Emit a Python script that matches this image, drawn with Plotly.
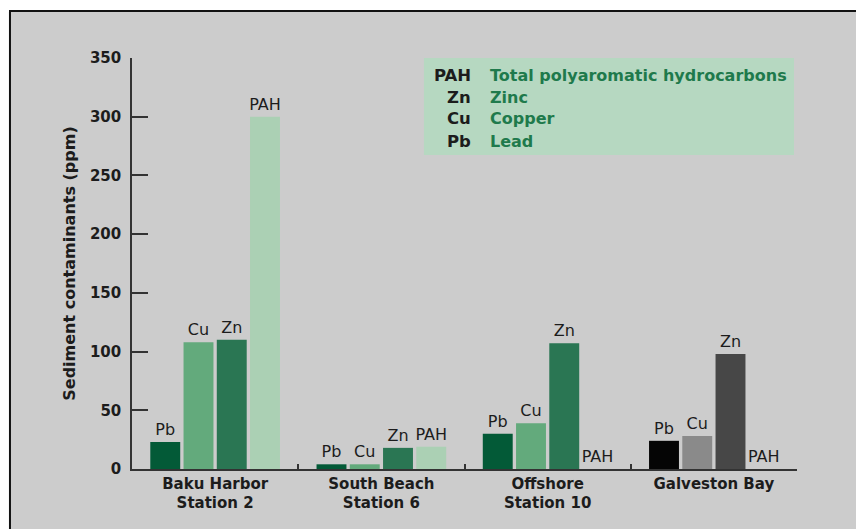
import plotly.graph_objects as go

# ---- data ----
stations = ["Baku Harbor<br>Station 2", "South Beach<br>Station 6", "Offshore<br>Station 10", "Galveston Bay"]
metals = ["Pb", "Cu", "Zn", "PAH"]
pb = [23, 4, 30, 24]
cu = [108, 4, 39, 28]
zn = [110, 18, 107, 98]
pah = [300, 19, 0, 0]
legend_abbr = ["PAH", "Zn", "Cu", "Pb"]
legend_names = ["Total polyaromatic hydrocarbons", "Zinc", "Copper", "Lead"]
y_ticks = [0, 50, 100, 150, 200, 250, 300, 350]

# ---- styles ----
colors = {
    "Pb": ["#035a37", "#035a37", "#035a37", "#050505"],
    "Cu": ["#63aa7c", "#63aa7c", "#63aa7c", "#8a8a8a"],
    "Zn": ["#2a7653", "#2a7653", "#2a7653", "#474747"],
    "PAH": ["#abd0b4", "#abd0b4", "#abd0b4", "#abd0b4"],
}
FONT = "DejaVu Sans"
TXT = "#1c1c1c"
series = {"Pb": pb, "Cu": cu, "Zn": zn, "PAH": pah}

fig = go.Figure()
for m in metals:
    fig.add_trace(go.Bar(
        x=stations, y=series[m], name=m,
        marker=dict(color=colors[m], line=dict(width=0)),
        text=[m] * len(stations), textposition="outside", constraintext="none",
        textfont=dict(family=FONT, size=16, color=TXT),
        cliponaxis=False, showlegend=False,
    ))

# frame / background
fig.add_shape(type="rect", xref="paper", yref="paper",
              x0=-0.1835, x1=1.2, y0=-0.3, y1=1.1144,
              fillcolor="#cccccc", line=dict(color="#111111", width=2), layer="below")
# legend box
fig.add_shape(type="rect", xref="paper", yref="paper",
              x0=0.439, x1=0.9955, y0=0.764, y1=1.0,
              fillcolor="#b6d8c1", line=dict(width=0), layer="below")
rows_y = [0.9586, 0.905, 0.8516, 0.798]
for a, n, yy in zip(legend_abbr, legend_names, rows_y):
    fig.add_annotation(xref="paper", yref="paper", x=0.5128, y=yy, text=a,
                       showarrow=False, xanchor="right", yanchor="middle",
                       font=dict(family=FONT, size=16.5, color=TXT, weight="bold"))
    fig.add_annotation(xref="paper", yref="paper", x=0.5353, y=yy, text=n,
                       showarrow=False, xanchor="left", yanchor="middle",
                       font=dict(family=FONT, size=16, color="#1f7a4c", weight="bold"))

fig.update_layout(
    width=856, height=521,
    margin=dict(l=124, r=67, t=50, b=60),
    paper_bgcolor="white", plot_bgcolor="rgba(0,0,0,0)",
    barmode="group", bargap=0.2, bargroupgap=0.1,
    font=dict(family=FONT, color=TXT),
    showlegend=False,
)
fig.update_yaxes(
    range=[0, 350], tickvals=y_ticks, showgrid=False, zeroline=False,
    showline=True, linecolor="#333333", linewidth=1.5,
    ticks="inside", ticklen=16, tickcolor="#333333", tickwidth=1.5,
    ticklabelstandoff=6,
    tickfont=dict(family=FONT, size=15, color=TXT, weight="bold"),
    title=dict(text="Sediment contaminants (ppm)", standoff=10,
               font=dict(family=FONT, size=16, color=TXT, weight="bold")),
)
fig.update_xaxes(
    range=[-0.5, 3.5], showgrid=False, showline=True, linecolor="#333333", linewidth=1.5,
    ticks="inside", tickson="boundaries", ticklen=5, tickcolor="#333333", tickwidth=1.5,
    tickfont=dict(family=FONT, size=15, color=TXT, weight="bold"),
)

fig.write_html("out.html")
